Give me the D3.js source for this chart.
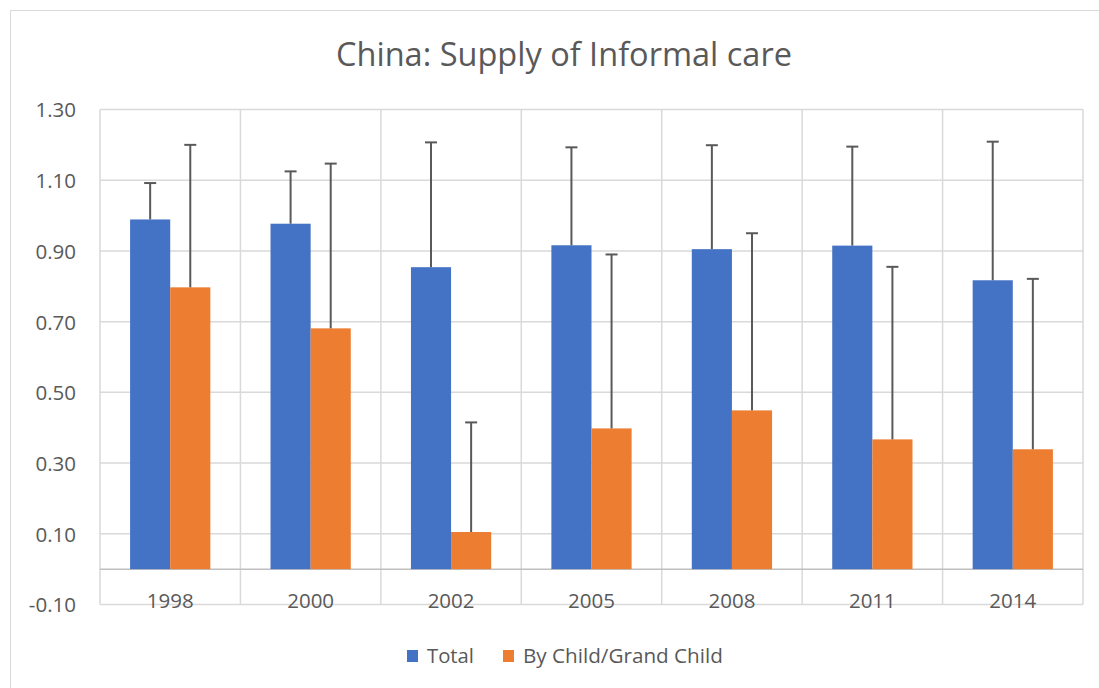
<!DOCTYPE html>
<html><head><meta charset="utf-8">
<script src="https://cdn.jsdelivr.net/npm/d3@7"></script>
<style>body{margin:0;background:#fff;} svg{display:block;}</style>
</head><body>
<svg id="c" width="1099" height="688"></svg>
<script>
const categories = ["1998","2000","2002","2005","2008","2011","2014"];
const seriesNames = ["Total","By Child/Grand Child"];
const totalValues = [0.989,0.977,0.854,0.916,0.905,0.915,0.817];
const childValues = [0.797,0.681,0.105,0.398,0.449,0.367,0.339];
const totalErrTop = [1.092,1.125,1.207,1.193,1.199,1.195,1.209];
const childErrTop = [1.200,1.147,0.415,0.890,0.950,0.855,0.821];
const yTicks = [-0.10,0.10,0.30,0.50,0.70,0.90,1.10,1.30];
const colors = ["#4472C4","#ED7D31"];

(function(){
const svg = d3.select("#c");
const font = "'Open Sans', Lato, sans-serif";
const textColor = "#595959";
const grid = "#d9d9d9";

function fitWidth(sel, target){
  const n = sel.node(); const w = n.getComputedTextLength();
  const fs = parseFloat(sel.attr("font-size"));
  if (w > 0) sel.attr("font-size", (fs*target/w).toFixed(2));
}

svg.append("rect").attr("x",10.5).attr("y",10.5).attr("width",1100).attr("height",700)
  .attr("fill","#fff").attr("stroke","#d9d9d9").attr("stroke-width",1);

const pL=100, pR=1083, pT=109.5, pB=604.5;
const y = d3.scaleLinear().domain([-0.10,1.30]).range([pB,pT]);
const x = d3.scaleBand().domain(categories).range([pL,pR]).paddingInner(0).paddingOuter(0);
const inner = d3.scaleBand().domain(seriesNames).range([0,x.bandwidth()]).paddingInner(0).paddingOuter(0.75);

svg.append("g").selectAll("line").data(yTicks).join("line")
  .attr("x1",pL).attr("x2",pR).attr("y1",d=>y(d)).attr("y2",d=>y(d))
  .attr("stroke",grid).attr("stroke-width",1.5);
const bounds = categories.map(c=>x(c)).concat([pR]);
svg.append("g").selectAll("line").data(bounds).join("line")
  .attr("x1",d=>d).attr("x2",d=>d).attr("y1",pT).attr("y2",pB)
  .attr("stroke",grid).attr("stroke-width",1.5);
svg.append("line").attr("x1",pL).attr("x2",pR).attr("y1",y(0)).attr("y2",y(0))
  .attr("stroke","#bfbfbf").attr("stroke-width",1.5);

const fmt = d3.format(".2f");
const yAxis = d3.axisLeft(y).tickValues(yTicks).tickFormat(d=>fmt(d).replace("\u2212","-")).tickSize(0).tickPadding(24);
const ya = svg.append("g").attr("transform",`translate(${pL},0)`).call(yAxis);
ya.select(".domain").remove();
ya.selectAll("text").attr("font-family",font).attr("font-size",20.5).attr("fill",textColor).attr("dy","0.36em");

const xAxis = d3.axisBottom(x).tickSize(0).tickPadding(0);
const xa = svg.append("g").attr("transform",`translate(0,${y(0)})`).call(xAxis);
xa.select(".domain").remove();
xa.selectAll("text").attr("font-family",font).attr("font-size",20.5).attr("fill",textColor)
  .attr("dy",null).attr("y",39);

const data = categories.map((c,i)=>[
  {cat:c, s:seriesNames[0], v:totalValues[i], e:totalErrTop[i], col:colors[0]},
  {cat:c, s:seriesNames[1], v:childValues[i], e:childErrTop[i], col:colors[1]}
]).flat();
svg.append("g").selectAll("rect").data(data).join("rect")
  .attr("x",d=>x(d.cat)+inner(d.s)).attr("width",inner.bandwidth())
  .attr("y",d=>y(d.v)).attr("height",d=>y(0)-y(d.v)).attr("fill",d=>d.col);

const eg = svg.append("g").attr("stroke","#595959").attr("stroke-width",2);
data.forEach(d=>{
  const cx = x(d.cat)+inner(d.s)+inner.bandwidth()/2;
  eg.append("line").attr("x1",cx).attr("x2",cx).attr("y1",y(d.v)).attr("y2",y(d.e));
  eg.append("line").attr("x1",cx-6).attr("x2",cx+6).attr("y1",y(d.e)).attr("y2",y(d.e));
});

const title = svg.append("text").attr("x",564).attr("y",65.5).attr("text-anchor","middle")
  .attr("font-family",font).attr("font-size",30).attr("fill",textColor)
  .text("China: Supply of Informal care");
fitWidth(title, 456);

const lg = svg.append("g");
const legendItems = [{n:seriesNames[0],c:colors[0],x:407,w:47},{n:seriesNames[1],c:colors[1],x:503,w:200}];
legendItems.forEach(it=>{
  lg.append("rect").attr("x",it.x).attr("y",650).attr("width",11).attr("height",12).attr("fill",it.c);
  const t = lg.append("text").attr("x",it.x+20).attr("y",663).attr("font-family",font).attr("font-size",19)
    .attr("fill",textColor).text(it.n);
  fitWidth(t, it.w);
});
})();
</script>
</body></html>
